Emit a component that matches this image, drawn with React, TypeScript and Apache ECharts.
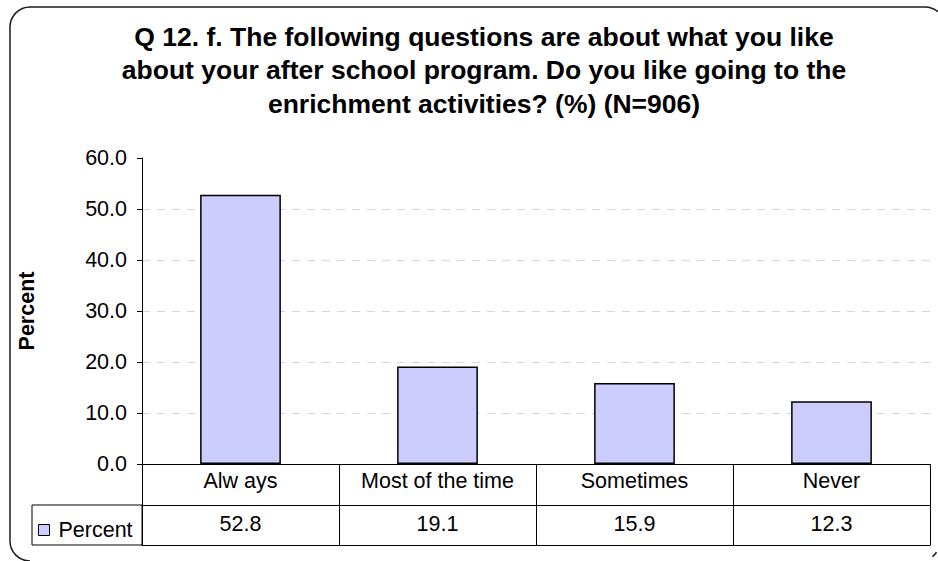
import React, { useEffect, useRef } from "react";
import * as echarts from "echarts";

const titleLines = [
  "Q 12. f. The following questions are about what you like",
  "about your after school program. Do you like going to the",
  "enrichment activities? (%) (N=906)",
];
const categories = ["Alw ays", "Most of the time", "Sometimes", "Never"];
const seriesName = "Percent";
const percentValues = [52.8, 19.1, 15.9, 12.3];
const yTicks = { min: 0, max: 60, interval: 10 };
const yAxisName = "Percent";

const FONT = "'Liberation Sans', Arial, Helvetica, sans-serif";
const FS = 21.5;
const BORDER = { stroke: "#1a1a1a", lineWidth: 1.5, fill: "none" };

export default function App() {
  const ref = useRef<HTMLDivElement>(null);
  useEffect(() => {
    document.body.style.margin = "0";
    const chart = echarts.init(ref.current!, null, { renderer: "svg" });
    chart.setOption({
      animation: false,
      backgroundColor: "#ffffff",
      textStyle: { fontFamily: FONT },
      title: {
        text: titleLines.join("\n"),
        left: 479,
        top: 15,
        textAlign: "center",
        textStyle: {
          fontFamily: FONT,
          fontSize: 26.5,
          fontWeight: "bold",
          color: "#000",
          lineHeight: 33.5,
        },
      },
      legend: {
        show: true,
        left: 33,
        top: 514,
        icon: "rect",
        itemWidth: 11,
        itemHeight: 11,
        itemStyle: { borderColor: "#000", borderWidth: 1 },
        textStyle: { fontFamily: FONT, fontSize: FS, color: "#000", padding: [0, 0, 0, 4] },
        data: [seriesName],
      },
      grid: { left: 142, right: 8, top: 158, bottom: 97, containLabel: false },
      xAxis: [
        {
          type: "category",
          data: categories,
          position: "bottom",
          axisLine: { show: true, lineStyle: { color: "#000", width: 1 } },
          axisTick: { show: true, interval: 0, length: 81, lineStyle: { color: "#000", width: 1 } },
          axisLabel: { interval: 0, fontFamily: FONT, fontSize: FS, color: "#000", margin: 6 },
          splitLine: { show: false },
        },
        {
          type: "category",
          data: categories,
          position: "bottom",
          offset: 41,
          axisLine: { show: true, lineStyle: { color: "#000", width: 1 } },
          axisTick: { show: false },
          axisLabel: {
            interval: 0,
            fontFamily: FONT,
            fontSize: FS,
            color: "#000",
            margin: 8,
            formatter: (_v: string, i: number) => percentValues[i].toFixed(1),
          },
        },
        {
          type: "category",
          data: categories,
          position: "bottom",
          offset: 81,
          axisLine: { show: true, lineStyle: { color: "#000", width: 1 } },
          axisTick: { show: false },
          axisLabel: { show: false },
        },
      ],
      yAxis: {
        type: "value",
        min: yTicks.min,
        max: yTicks.max,
        interval: yTicks.interval,
        name: yAxisName,
        nameLocation: "middle",
        nameRotate: 90,
        nameGap: 104,
        nameTextStyle: { fontFamily: FONT, fontSize: FS, fontWeight: "bold", color: "#000" },
        axisLine: { show: true, lineStyle: { color: "#000", width: 1 } },
        axisTick: { show: true, length: 5, lineStyle: { color: "#000" } },
        axisLabel: {
          fontFamily: FONT,
          fontSize: FS,
          color: "#000",
          margin: 15,
          formatter: (v: number) => v.toFixed(1),
        },
        splitLine: {
          show: true,
          showMaxLine: false,
          lineStyle: { color: "#d6d6d6", width: 1, type: [8, 7] },
        },
      },
      series: [
        {
          name: seriesName,
          type: "bar",
          xAxisIndex: 0,
          data: percentValues,
          barWidth: "41%",
          itemStyle: { color: "#CCCCFF", borderColor: "#000", borderWidth: 1.5 },
        },
      ],
      graphic: [
        { type: "line", silent: true, z: 100, shape: { x1: 30, y1: 7, x2: 925, y2: 7 }, style: BORDER },
        { type: "line", silent: true, z: 100, shape: { x1: 10, y1: 27, x2: 10, y2: 541 }, style: BORDER },
        {
          type: "arc", silent: true, z: 100,
          shape: { cx: 30, cy: 27, r: 20, startAngle: Math.PI, endAngle: Math.PI * 1.5, clockwise: true },
          style: BORDER,
        },
        {
          type: "arc", silent: true, z: 100,
          shape: { cx: 30, cy: 541, r: 20, startAngle: Math.PI / 2, endAngle: Math.PI, clockwise: true },
          style: BORDER,
        },
        {
          type: "arc", silent: true, z: 100,
          shape: { cx: 925, cy: 27, r: 20, startAngle: Math.PI * 1.5, endAngle: Math.PI * 1.5 + 0.7, clockwise: true },
          style: BORDER,
        },
        {
          type: "arc", silent: true, z: 100,
          shape: { cx: 920, cy: 541, r: 20, startAngle: 0.6, endAngle: 0.9, clockwise: true },
          style: BORDER,
        },
        {
          type: "rect",
          shape: { x: 32, y: 505, width: 110, height: 40 },
          style: { fill: "none", stroke: "#000", lineWidth: 1 },
          silent: true,
        },
      ],
    });
    return () => chart.dispose();
  }, []);
  return (
    <div
      ref={ref}
      style={{ position: "absolute", left: 0, top: 0, width: 938, height: 561 }}
    />
  );
}
